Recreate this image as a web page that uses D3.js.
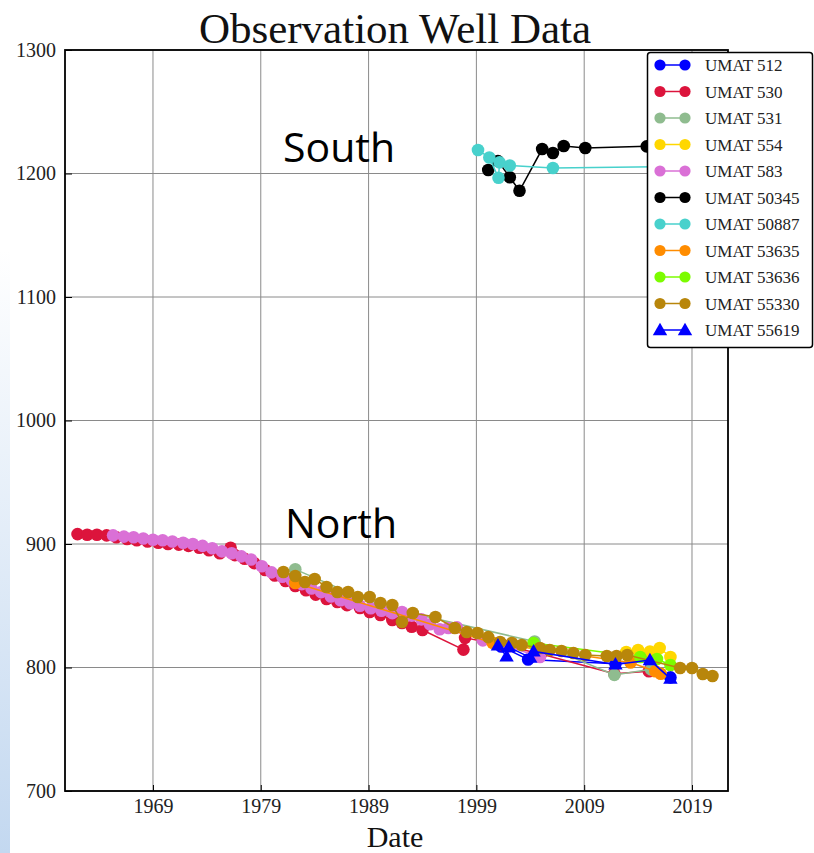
<!DOCTYPE html>
<html>
<head>
<meta charset="utf-8">
<script src="https://cdn.jsdelivr.net/npm/d3@7"></script>
<style>
  body { margin: 0; background: #fff; }
</style>
</head>
<body>
<div id="chart"></div>
<script>
// water levels, [decimal year, elevation]
var w512 = [[2001.3, 817], [2003.8, 806.5], [2011.9, 803], [2015.1, 805], [2017.0, 792]];
var w530 = [[1962.0, 908], [1962.9, 907.5], [1963.8, 907.5], [1964.7, 907], [1965.6, 905.5], [1966.6, 904],
  [1967.5, 903], [1968.5, 902], [1969.5, 901], [1970.4, 900], [1971.4, 899.5], [1972.3, 898.5], [1973.3, 897],
  [1974.2, 895], [1975.2, 892.5], [1976.2, 897], [1976.6, 891], [1977.5, 888], [1978.4, 884.5], [1979.4, 879],
  [1980.3, 874.5], [1981.3, 870], [1982.2, 866], [1983.2, 862.5], [1984.1, 859], [1985.1, 855.5], [1986.1, 853],
  [1987.0, 850.5], [1988.2, 848.2], [1989.1, 845], [1990.1, 842.5], [1991.2, 838.5], [1992.1, 836], [1993.0, 833],
  [1994.0, 830.4], [1997.8, 814.5], [1997.95, 824], [2001.5, 818], [2005.0, 811], [2011.8, 795], [2015.0, 797]];
var w531 = [[1982.2, 879.5], [1990.0, 850], [2004.4, 821], [2011.8, 794], [2015.2, 798.5]];
var w554 = [[2012.9, 812.6], [2014.0, 814.2], [2015.1, 813], [2016.0, 815.8], [2017.0, 808.5]];
var w583 = [[1965.3, 907], [1966.3, 906], [1967.2, 905.5], [1968.1, 904.5], [1969.0, 903.5], [1969.9, 903],
  [1970.8, 902], [1971.8, 901], [1972.7, 900], [1973.6, 898.5], [1974.5, 896.5], [1975.4, 894], [1976.3, 892.5],
  [1977.2, 890], [1978.1, 887.5], [1979.1, 882], [1980.0, 877], [1981.0, 873.5], [1981.9, 870.5], [1982.8, 867.5],
  [1983.7, 864], [1984.6, 861], [1985.5, 857.5], [1986.4, 854.5], [1987.3, 852], [1988.2, 850], [1989.2, 848],
  [1990.2, 846], [1991.2, 844], [1992.1, 845], [1993.0, 842], [1993.9, 839], [1994.7, 835], [1995.6, 831],
  [1996.4, 832], [1997.2, 832.5], [1999.6, 822], [2002.0, 817], [2004.9, 808.5]];
var w50345 = [[2000.1, 1202.8], [2001.0, 1210], [2002.1, 1197], [2003.0, 1186], [2005.1, 1219.8], [2006.1, 1216.6],
  [2007.1, 1222.3], [2009.1, 1220.6], [2014.8, 1222]];
var w50887 = [[1999.15, 1219], [2000.2, 1213], [2001.05, 1196.5], [2001.15, 1209], [2002.1, 1206.5],
  [2006.1, 1204.5], [2021.5, 1206]];
var w53635 = [[1982.2, 868.4], [2000.5, 820], [2013.3, 804], [2015.6, 797], [2016.1, 795]];
var w53636 = [[2004.3, 819.8], [2014.2, 808.5], [2015.75, 806.9], [2017.0, 802]];
var w55330 = [[1981.1, 877.3], [1982.2, 874.1], [1983.1, 869.2], [1984.0, 871.7], [1985.1, 865.2], [1986.1, 861.1],
  [1987.1, 861.1], [1988.0, 857.1], [1989.1, 857.1], [1990.1, 852.2], [1991.2, 850.6], [1992.1, 836.8],
  [1993.1, 844.1], [1995.2, 840.9], [1997.0, 832], [1998.1, 828.7], [1999.1, 827.9], [2000.1, 824.6],
  [2001.2, 820.6], [2002.3, 819.8], [2003.2, 818.2], [2004.9, 815.8], [2005.8, 814.2], [2006.9, 813.4],
  [2008.0, 811.7], [2009.1, 810.1], [2011.1, 809.3], [2012.0, 809.3], [2013.0, 810.1], [2017.9, 799.6],
  [2019.0, 799.6], [2020.0, 794.7], [2020.9, 793.1]];
var w55619 = [[2001.0, 818], [2001.8, 809], [2002.0, 816.5], [2004.0, 808], [2004.3, 813], [2011.9, 802.5],
  [2015.1, 806], [2017.0, 791]];

var wellNames = ['UMAT 512', 'UMAT 530', 'UMAT 531', 'UMAT 554', 'UMAT 583', 'UMAT 50345',
  'UMAT 50887', 'UMAT 53635', 'UMAT 53636', 'UMAT 55330', 'UMAT 55619'];
var wellData = [w512, w530, w531, w554, w583, w50345, w50887, w53635, w53636, w55330, w55619];
var wellColors = ['#0000ff', '#dc143c', '#8fbc8f', '#ffd700', '#da70d6', '#000000',
  '#48d1cc', '#ff8c00', '#7cfc00', '#b8860b', '#0000ff'];
var wellMarkers = ['circle', 'circle', 'circle', 'circle', 'circle', 'circle',
  'circle', 'circle', 'circle', 'circle', 'triangle'];

var xTicks = [1969, 1979, 1989, 1999, 2009, 2019];
var yTicks = [700, 800, 900, 1000, 1100, 1200, 1300];

var width = 814, height = 853;
var pLeft = 65, pRight = 728, pTop = 50, pBottom = 791;

var svg = d3.select("#chart").append("svg")
  .attr("width", width)
  .attr("height", height);

var defs = svg.append("defs");

// slide background strip on the left
var grad = defs.append("linearGradient")
  .attr("id", "strip").attr("x1", 0).attr("y1", 0).attr("x2", 0).attr("y2", 1);
grad.append("stop").attr("offset", "0%").attr("stop-color", "#ffffff");
grad.append("stop").attr("offset", "100%").attr("stop-color", "#c3d8f0");
svg.append("rect").attr("x", 0).attr("y", 250).attr("width", 10).attr("height", 603)
  .attr("fill", "url(#strip)");

defs.append("clipPath").attr("id", "plotclip")
  .append("rect").attr("x", pLeft).attr("y", pTop).attr("width", pRight - pLeft).attr("height", pBottom - pTop);

var x = d3.scaleLinear().domain([1960.84, 2022.34]).range([pLeft, pRight]);
var y = d3.scaleLinear().domain([700, 1300]).range([pBottom, pTop]);

// grid
svg.append("g").selectAll("line").data(xTicks).enter().append("line")
  .attr("x1", d => x(d)).attr("x2", d => x(d)).attr("y1", pTop).attr("y2", pBottom)
  .attr("stroke", "#8a8a8a").attr("stroke-width", 1);
svg.append("g").selectAll("line").data(yTicks).enter().append("line")
  .attr("x1", pLeft).attr("x2", pRight).attr("y1", d => y(d)).attr("y2", d => y(d))
  .attr("stroke", "#8a8a8a").attr("stroke-width", 1);

// axes
var xAxis = svg.append("g")
  .attr("transform", "translate(0," + pBottom + ")")
  .call(d3.axisBottom(x).tickValues(xTicks).tickFormat(d3.format("d")).tickSize(-6).tickPadding(8));
var yAxis = svg.append("g")
  .attr("transform", "translate(" + pLeft + ",0)")
  .call(d3.axisLeft(y).tickValues(yTicks).tickFormat(d3.format("d")).tickSize(-7).tickPadding(9));
[xAxis, yAxis].forEach(function(a) {
  a.select(".domain").remove();
  a.selectAll("text").attr("font-family", "Liberation Serif").attr("font-size", "20px").attr("fill", "#222");
  a.selectAll("line").attr("stroke", "#000");
});

var plot = svg.append("g").attr("clip-path", "url(#plotclip)");
var line = d3.line().x(d => x(d[0])).y(d => y(d[1]));
var tri = d3.symbol().type(d3.symbolTriangle).size(90);

wellData.forEach(function(data, i) {
  var g = plot.append("g");
  g.append("path")
    .datum(data)
    .attr("d", line)
    .attr("fill", "none")
    .attr("stroke", wellColors[i])
    .attr("stroke-width", 1.5);
  if (wellMarkers[i] == "triangle") {
    g.selectAll("path.m").data(data).enter().append("path")
      .attr("class", "m")
      .attr("d", tri)
      .attr("transform", d => "translate(" + x(d[0]) + "," + (y(d[1]) + 1) + ")")
      .attr("fill", wellColors[i]);
  } else {
    g.selectAll("circle").data(data).enter().append("circle")
      .attr("cx", d => x(d[0]))
      .attr("cy", d => y(d[1]))
      .attr("r", 6.3)
      .attr("fill", wellColors[i]);
  }
});

// frame
svg.append("rect")
  .attr("x", pLeft).attr("y", pTop).attr("width", pRight - pLeft).attr("height", pBottom - pTop)
  .attr("fill", "none").attr("stroke", "#000").attr("stroke-width", 1.8);

// region labels
svg.append("text").attr("x", 283).attr("y", 162)
  .attr("font-family", "Open Sans").attr("font-size", "41px").attr("fill", "#000")
  .text("South");
svg.append("text").attr("x", 285).attr("y", 538)
  .attr("font-family", "Open Sans").attr("font-size", "41px").attr("fill", "#000")
  .text("North");

// titles
svg.append("text").attr("x", 395).attr("y", 43).attr("text-anchor", "middle")
  .attr("font-family", "Liberation Serif").attr("font-size", "43px").attr("fill", "#111")
  .text("Observation Well Data");
svg.append("text").attr("x", 395).attr("y", 847).attr("text-anchor", "middle")
  .attr("font-family", "Liberation Serif").attr("font-size", "30px").attr("fill", "#111")
  .text("Date");

// legend
var legend = svg.append("g");
legend.append("rect")
  .attr("x", 647.5).attr("y", 52.5).attr("width", 165).attr("height", 295).attr("rx", 3)
  .attr("fill", "#fff").attr("stroke", "#000").attr("stroke-width", 1.5);
wellNames.forEach(function(name, i) {
  var ly = 65 + i * 26.5;
  var item = legend.append("g");
  item.append("line").attr("x1", 660).attr("x2", 685).attr("y1", ly).attr("y2", ly)
    .attr("stroke", wellColors[i]).attr("stroke-width", 1.5);
  [660, 685].forEach(function(lx) {
    if (wellMarkers[i] == "triangle") {
      item.append("path").attr("d", tri)
        .attr("transform", "translate(" + lx + "," + (ly + 1) + ")")
        .attr("fill", wellColors[i]);
    } else {
      item.append("circle").attr("cx", lx).attr("cy", ly).attr("r", 5.6).attr("fill", wellColors[i]);
    }
  });
  item.append("text").attr("x", 705).attr("y", ly + 6)
    .attr("font-family", "Liberation Serif").attr("font-size", "17px").attr("fill", "#222")
    .text(name);
});
</script>
</body>
</html>
